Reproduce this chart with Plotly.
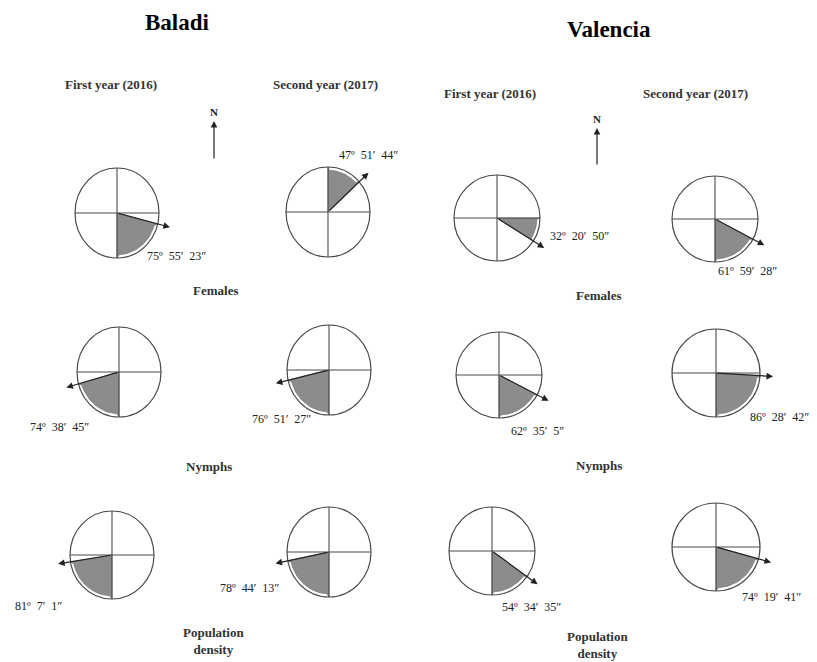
import math
import plotly.graph_objects as go

# ---- data: mean orientation angles (degrees, minutes, seconds) ----
stages = ["Females", "Nymphs", "Population density"]
years = ["First year (2016)", "Second year (2017)"]
cultivars = ["Baladi", "Valencia"]

baladi_2016 = [(75, 55, 23), (74, 38, 45), (81, 7, 1)]
baladi_2017 = [(47, 51, 44), (76, 51, 27), (78, 44, 13)]
valencia_2016 = [(32, 20, 50), (62, 35, 5), (54, 34, 35)]
valencia_2017 = [(61, 59, 28), (86, 28, 42), (74, 19, 41)]

# reference bearing (compass degrees) the angle is measured from, and turning sense
ref_baladi_2016 = [(180, -1), (180, 1), (180, 1)]
ref_baladi_2017 = [(0, 1), (180, 1), (180, 1)]
ref_valencia_2016 = [(90, 1), (180, -1), (180, -1)]
ref_valencia_2017 = [(180, -1), (180, -1), (180, -1)]

# ---- layout: pixel positions of each rose (cx, cy, rx, ry) and its label anchor ----
panels = [
    (baladi_2016, ref_baladi_2016, [(117, 213, 42, 45), (119, 372, 42, 45), (112, 555, 42, 44)],
     [(145, 256), (28, 427), (13, 606)]),
    (baladi_2017, ref_baladi_2017, [(328, 212, 42, 45), (329, 370, 42, 45), (329, 552, 42, 45)],
     [(337, 155), (250, 419), (218, 588)]),
    (valencia_2016, ref_valencia_2016, [(497, 218, 43, 43), (499, 375, 43, 43), (492, 551, 43, 44)],
     [(548, 236), (509, 431), (500, 607)]),
    (valencia_2017, ref_valencia_2017, [(715, 219, 43, 43), (716, 373, 44, 44), (716, 547, 44, 44)],
     [(716, 271), (748, 417), (740, 597)]),
]

LINE = "#4a4a4a"
FILL = "#8c8c8c"
SERIF = "Liberation Serif, Times New Roman, serif"
SP = "\u00a0\u00a0"

fig = go.Figure()
shapes = []
annotations = []


def dms_to_deg(d, m, s):
    return d + m / 60 + s / 3600


def point(cx, cy, rx, ry, bearing, k=1.0):
    b = math.radians(bearing)
    return cx + k * rx * math.sin(b), cy - k * ry * math.cos(b)


for values, refs, geoms, labels in panels:
    for (d, m, s), (start, sense), (cx, cy, rx, ry), (lx, ly) in zip(values, refs, geoms, labels):
        ang = dms_to_deg(d, m, s)
        end = start + sense * ang
        # shaded sector between reference direction and mean direction
        n = 24
        xs, ys = [cx], [cy]
        for i in range(n + 1):
            b = start + (end - start) * i / n
            k = 1.0 if i in (0, n) else 0.93
            px, py = point(cx, cy, rx, ry, b, k)
            xs.append(px)
            ys.append(py)
        xs.append(cx)
        ys.append(cy)
        fig.add_trace(go.Scatter(x=xs, y=ys, mode="lines", fill="toself",
                                 fillcolor=FILL, line=dict(color="#6a6a6a", width=0.6),
                                 hoverinfo="skip", showlegend=False))
        # circle outline and quadrant lines
        shapes.append(dict(type="circle", xref="x", yref="y", x0=cx - rx, x1=cx + rx,
                           y0=cy - ry, y1=cy + ry, line=dict(color=LINE, width=1.2), layer="above"))
        shapes.append(dict(type="line", xref="x", yref="y", x0=cx - rx, x1=cx + rx,
                           y0=cy, y1=cy, line=dict(color=LINE, width=1.1), layer="above"))
        shapes.append(dict(type="line", xref="x", yref="y", x0=cx, x1=cx,
                           y0=cy - ry, y1=cy + ry, line=dict(color=LINE, width=1.1), layer="above"))
        # mean direction arrow
        tx, ty = point(cx, cy, rx, ry, end, 1.3)
        annotations.append(dict(x=tx, y=ty, ax=cx, ay=cy, xref="x", yref="y", axref="x", ayref="y",
                                text="", showarrow=True, arrowhead=2, arrowsize=1.1,
                                arrowwidth=1.2, arrowcolor="#222"))
        annotations.append(dict(x=lx, y=ly, xref="x", yref="y", xanchor="left", yanchor="middle",
                                text=f"{d}º{SP}{m}′{SP}{s}″", showarrow=False,
                                font=dict(family=SERIF, size=12, color="#222")))

# north arrows
for nx, ny0, ny1 in [(214, 160, 121), (597, 166, 128)]:
    annotations.append(dict(x=nx, y=ny1, ax=nx, ay=ny0, xref="x", yref="y", axref="x", ayref="y",
                            text="", showarrow=True, arrowhead=2, arrowsize=1.1,
                            arrowwidth=1.2, arrowcolor="#222"))
    annotations.append(dict(x=nx, y=ny1 - 9, xref="x", yref="y", text="<b>N</b>", showarrow=False,
                            font=dict(family=SERIF, size=11, color="#222")))

# titles and headings
title_pos = [(177, 22), (609, 29)]
for name, (x, y) in zip(cultivars, title_pos):
    annotations.append(dict(x=x, y=y, xref="x", yref="y", text=f"<b>{name}</b>", showarrow=False,
                            font=dict(family=SERIF, size=23, color="#000")))

year_pos = [(111, 84), (325, 84), (490, 93), (695, 93)]
for i, (x, y) in enumerate(year_pos):
    annotations.append(dict(x=x, y=y, xref="x", yref="y", text=f"<b>{years[i % 2]}</b>",
                            showarrow=False, font=dict(family=SERIF, size=13, color="#333")))

stage_pos = [
    [(215, 290), (209, 466), (213, 641)],
    [(598, 295), (599, 465), (597, 645)],
]
for col in stage_pos:
    for stage, (x, y) in zip(stages, col):
        txt = "<b>Population<br>density</b>" if stage == "Population density" else f"<b>{stage}</b>"
        annotations.append(dict(x=x, y=y, xref="x", yref="y", text=txt, showarrow=False,
                                font=dict(family=SERIF, size=13, color="#333")))

fig.update_layout(
    width=817, height=662, margin=dict(l=0, r=0, t=0, b=0),
    paper_bgcolor="white", plot_bgcolor="white",
    xaxis=dict(range=[0, 817], visible=False, fixedrange=True),
    yaxis=dict(range=[662, 0], visible=False, fixedrange=True),
    shapes=shapes, annotations=annotations, showlegend=False,
)

fig.write_html("out.html")
